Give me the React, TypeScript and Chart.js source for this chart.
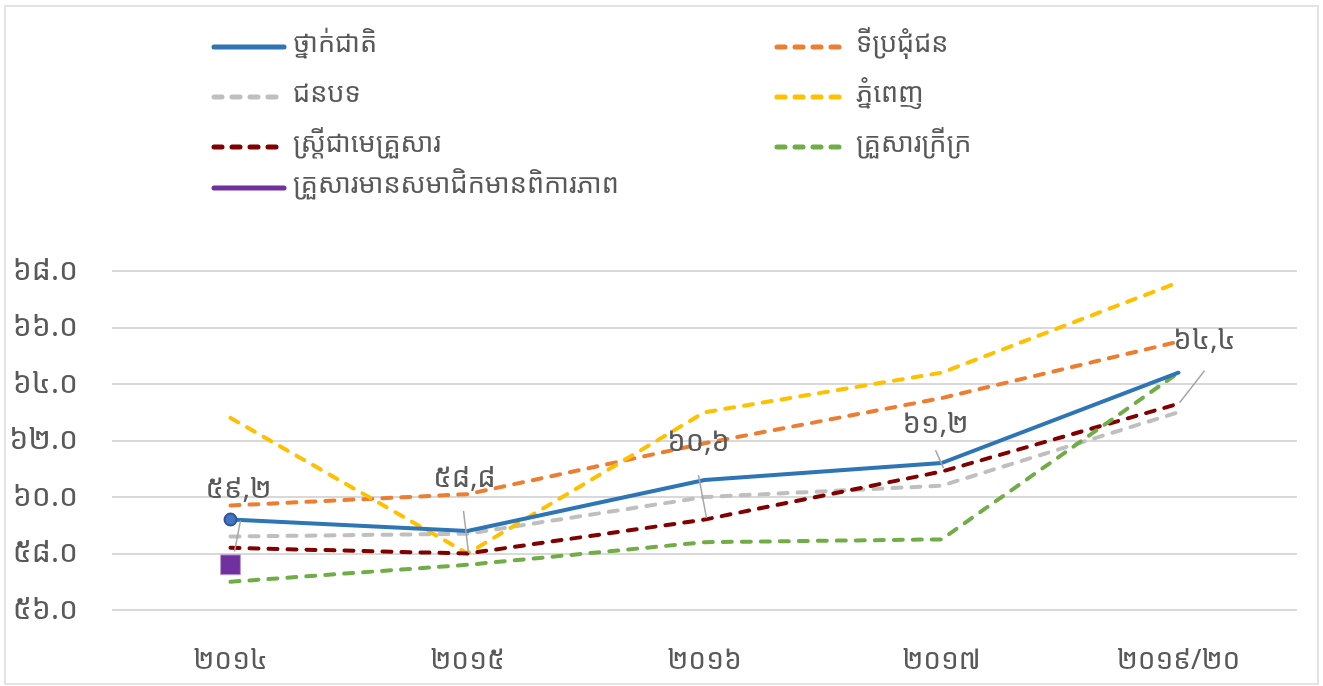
import React, { useEffect, useRef } from 'react';
import { Chart, registerables } from 'chart.js';

Chart.register(...registerables);

const categories = ['២០១៤', '២០១៥', '២០១៦', '២០១៧', '២០១៩/២០'];
const seriesNames = [
  'ថ្នាក់ជាតិ',
  'ទីប្រជុំជន',
  'ជនបទ',
  'ភ្នំពេញ',
  'ស្ត្រីជាមេគ្រួសារ',
  'គ្រួសារក្រីក្រ',
  'គ្រួសារមានសមាជិកមានពិការភាព',
];
const national = [59.2, 58.8, 60.6, 61.2, 64.4];
const otherUrban = [59.7, 60.1, 61.9, 63.5, 65.5];
const rural = [58.6, 58.7, 60.0, 60.4, 63.0];
const phnomPenh = [62.8, 58.0, 63.0, 64.4, 67.6];
const femaleHead = [58.2, 58.0, 59.2, 60.9, 63.3];
const poor = [57.0, 57.6, 58.4, 58.5, 64.4];
const disabled = [57.6, null, null, null, null];

const yMin = 56;
const yMax = 68;
const yStep = 2;

const FONT = "'Noto Sans Khmer', 'Khmer OS System', 'Khmer OS', 'Noto Sans', 'DejaVu Sans', sans-serif";
const TEXT = '#595959';

const KH = '០១២៣៤៥៦៧៨៩';
const toKhmer = (s: string) => s.replace(/[0-9]/g, (d) => KH[Number(d)]);

// label offsets (px) relative to the national series points, and leader lines
const labelOffsets = [
  [8, -30],
  [-3, -52],
  [-6, -37],
  [-6, -38],
  [26, -32],
];
const leaderLines = [
  [10, 1, 4, 32],
  [-4, -20, 1, 22],
  [-6, -5, 2, 38],
  [-6, -13, 2, 5],
  [26, -2, 1, 30],
];

const legendPos = [
  [212, 47],
  [775, 47],
  [212, 97],
  [775, 97],
  [212, 147],
  [775, 147],
  [212, 188],
];

const labelPlugin = {
  id: 'dataLabelsCustom',
  afterDatasetsDraw(chart: any) {
    const ctx = chart.ctx;
    const meta = chart.getDatasetMeta(0);
    ctx.save();
    meta.data.forEach((pt: any, i: number) => {
      const v = national[i];
      if (v == null) return;
      const [lx1, ly1, lx2, ly2] = leaderLines[i];
      ctx.strokeStyle = '#A6A6A6';
      ctx.lineWidth = 1.5;
      ctx.beginPath();
      ctx.moveTo(pt.x + lx1, pt.y + ly1);
      ctx.lineTo(pt.x + lx2, pt.y + ly2);
      ctx.stroke();
      const [ox, oy] = labelOffsets[i];
      ctx.fillStyle = TEXT;
      ctx.font = `29px ${FONT}`;
      ctx.textAlign = 'center';
      ctx.textBaseline = 'middle';
      ctx.fillText(toKhmer(v.toFixed(1)).replace('.', ','), pt.x + ox, pt.y + oy);
    });
    ctx.restore();
  },
};

const legendPlugin = {
  id: 'legendCustom',
  afterDraw(chart: any) {
    const ctx = chart.ctx;
    ctx.save();
    chart.data.datasets.forEach((ds: any, i: number) => {
      const [x, y] = legendPos[i];
      ctx.strokeStyle = ds.borderColor;
      ctx.lineWidth = 5;
      ctx.lineCap = 'round';
      ctx.setLineDash(ds.borderDash && ds.borderDash.length ? [8, 10] : []);
      ctx.beginPath();
      ctx.moveTo(x + 2, y);
      ctx.lineTo(x + 72, y);
      ctx.stroke();
      ctx.setLineDash([]);
      ctx.fillStyle = TEXT;
      ctx.font = `27px ${FONT}`;
      ctx.textAlign = 'left';
      ctx.textBaseline = 'middle';
      ctx.fillText(seriesNames[i], x + 81, y - 3);
    });
    ctx.restore();
  },
};

export default function App() {
  const ref = useRef<HTMLCanvasElement>(null);

  useEffect(() => {
    document.body.style.margin = '0';
    const dash = [9, 10];
    const mk = (i: number, data: any[], color: string, dashed: boolean) => ({
      label: seriesNames[i],
      data,
      borderColor: color,
      backgroundColor: color,
      borderWidth: 4,
      borderDash: dashed ? dash : [],
      borderCapStyle: 'round',
      pointRadius: 0,
      pointHoverRadius: 0,
      tension: 0,
      fill: false,
      order: 10 - i,
    });
    const datasets: any[] = [
      {
        ...mk(0, national, '#2E75B6', false),
        pointRadius: [6, 0, 0, 0, 0],
        pointBackgroundColor: '#4472C4',
        pointBorderColor: '#2F5597',
        pointBorderWidth: 2,
        order: 3,
      },
      mk(1, otherUrban, '#ED7D31', true),
      mk(2, rural, '#BFBFBF', true),
      mk(3, phnomPenh, '#FFC000', true),
      mk(4, femaleHead, '#800000', true),
      mk(5, poor, '#70AD47', true),
      {
        ...mk(6, disabled, '#7030A0', false),
        pointStyle: 'rect',
        pointRadius: 14,
        pointBackgroundColor: '#7030A0',
        pointBorderColor: '#B49AD0',
        pointBorderWidth: 1,
        order: 0,
      },
    ];

    const chart = new Chart(ref.current as HTMLCanvasElement, {
      type: 'line',
      data: { labels: categories, datasets },
      plugins: [labelPlugin, legendPlugin],
      options: {
        animation: false,
        responsive: false,
        layout: { padding: { top: 271, right: 26, bottom: 0, left: 0 } },
        plugins: { legend: { display: false }, tooltip: { enabled: false } },
        scales: {
          x: {
            type: 'category',
            offset: true,
            grid: { display: false },
            border: { display: false },
            ticks: {
              color: TEXT,
              font: { family: FONT, size: 28 },
              padding: 26,
              maxRotation: 0,
            },
            afterFit: (s: any) => {
              s.height = 76;
            },
          },
          y: {
            min: yMin,
            max: yMax,
            grid: { color: '#D9D9D9', lineWidth: 2, drawTicks: false },
            border: { display: false },
            ticks: {
              stepSize: yStep,
              color: TEXT,
              font: { family: FONT, size: 30 },
              padding: 34,
              callback: (v: any) => toKhmer(Number(v).toFixed(1)),
            },
            afterFit: (s: any) => {
              s.width = 112;
            },
          },
        },
      },
    });
    return () => chart.destroy();
  }, []);

  return (
    <div style={{ position: 'fixed', left: 0, top: 0, width: 1323, height: 686, background: '#fff' }}>
      <canvas ref={ref} width={1323} height={686} style={{ position: 'absolute', left: 0, top: 0 }} />
      <div
        style={{
          position: 'absolute',
          left: 4,
          top: 5,
          width: 1315,
          height: 680,
          border: '2px solid #E3E3E3',
          boxSizing: 'border-box',
          pointerEvents: 'none',
        }}
      />
    </div>
  );
}
